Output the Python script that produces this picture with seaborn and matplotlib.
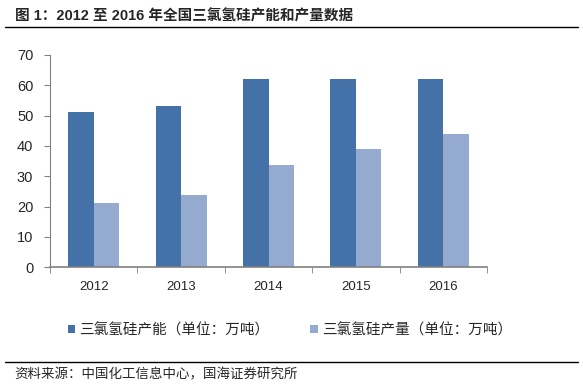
import pandas as pd
import matplotlib
matplotlib.use('Agg')
import matplotlib.pyplot as plt
import seaborn as sns

years = ['2012', '2013', '2014', '2015', '2016']
capacity = [51.3, 53.2, 62.0, 62.0, 62.0]
output = [21.2, 24.0, 33.8, 39.0, 43.9]
name_cap = '三氯氢硅产能（单位：万吨）'
name_out = '三氯氢硅产量（单位：万吨）'

df = pd.DataFrame({
    'Year': years * 2,
    'Value': capacity + output,
    'Series': [name_cap] * len(years) + [name_out] * len(years),
})

sns.set_style('white')
plt.rcParams['font.family'] = ['Liberation Sans', 'Noto Sans CJK SC', 'DejaVu Sans']

fig = plt.figure(figsize=(5.83, 3.87), dpi=100)
ax = fig.add_axes([50 / 583, 1 - 267.3 / 387, 437 / 583, (267.3 - 55) / 387])

sns.barplot(data=df, x='Year', y='Value', hue='Series',
            palette=['#4472A8', '#95AACF'], width=0.585, gap=0,
            saturation=1, linewidth=0, edgecolor='none', ax=ax)

ax.set_ylim(0, 70)
ax.set_yticks(range(0, 71, 10))
ax.set_xlim(-0.5, 4.5)
ax.set_xlabel('')
ax.set_ylabel('')
for s in ['top', 'right']:
    ax.spines[s].set_visible(False)
ax.spines['left'].set_color('#808080')
ax.spines['bottom'].set_color('#808080')
ax.spines['left'].set_linewidth(0.8)
ax.spines['bottom'].set_linewidth(1.2)
ax.set_xticks([i - 0.5 for i in range(6)], minor=True)
ax.tick_params(axis='x', which='major', length=0, pad=10, labelsize=9.5)
ax.tick_params(axis='x', which='minor', length=4, color='#808080', direction='out', bottom=True)
ax.tick_params(axis='y', length=4, color='#808080', direction='out', left=True, labelsize=10.5, pad=8)

leg = ax.legend(loc='center', bbox_to_anchor=(290 / 583, 1 - 330 / 387),
                bbox_transform=fig.transFigure, ncol=2, frameon=False,
                prop={'family': ['Noto Sans CJK SC'], 'size': 10.5},
                handlelength=0.5, handleheight=0.5, handletextpad=0.3,
                columnspacing=2.8)

fig.text(15 / 583, 1 - 16 / 387, '图 1：2012 至 2016 年全国三氯氢硅产能和产量数据',
         fontsize=10.5, fontweight='bold', va='center', ha='left')
fig.add_artist(plt.Line2D([5 / 583, 578 / 583], [1 - 27 / 387] * 2, color='black', lw=1))
fig.add_artist(plt.Line2D([5 / 583, 578 / 583], [1 - 362 / 387] * 2, color='black', lw=1))
fig.text(14 / 583, 1 - 374 / 387, '资料来源：中国化工信息中心，国海证券研究所',
         fontsize=9.7, family=['Noto Sans CJK SC'], va='center', ha='left')

fig.savefig('out.png', dpi=100)
